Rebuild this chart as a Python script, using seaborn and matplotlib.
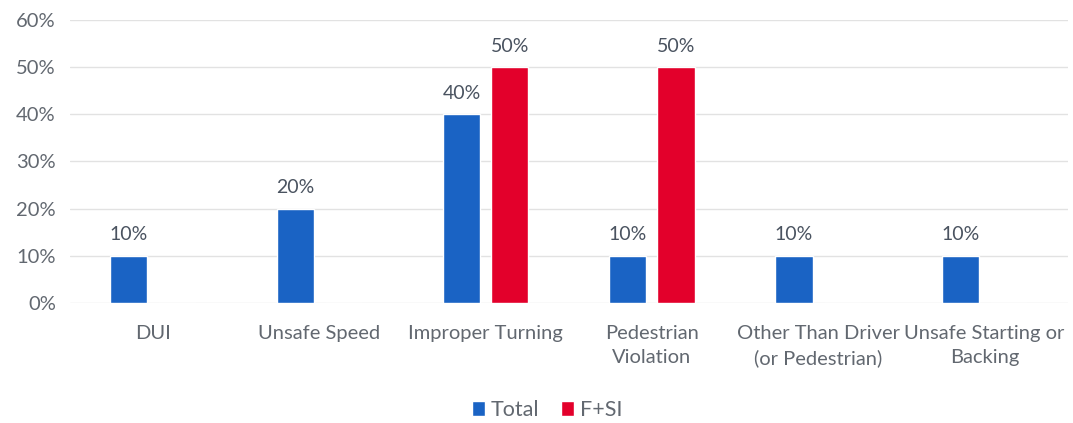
import matplotlib
matplotlib.use("Agg")
import matplotlib.pyplot as plt
import seaborn as sns
import pandas as pd
from matplotlib.patches import Patch

categories = ["DUI", "Unsafe Speed", "Improper Turning", "Pedestrian\nViolation",
              "Other Than Driver\n(or Pedestrian)", "Unsafe Starting or\nBacking"]
total = [0.10, 0.20, 0.40, 0.10, 0.10, 0.10]
fsi = [0.0, 0.0, 0.50, 0.50, 0.0, 0.0]
series = ["Total", "F+SI"]
colors = {"Total": "#1A63C4", "F+SI": "#E3002B"}
yticks = [0, 0.1, 0.2, 0.3, 0.4, 0.5, 0.6]

df = pd.DataFrame({
    "category": categories * 2,
    "series": [series[0]] * len(categories) + [series[1]] * len(categories),
    "value": total + fsi,
})

sns.set_theme(style="white")
plt.rcParams["font.family"] = ["Lato", "DejaVu Sans"]
text_color = "#626870"

fig = plt.figure(figsize=(10.73, 4.23), dpi=100)
ax = fig.add_axes([0.065, 0.284, 0.93, 0.669])

sns.barplot(data=df, x="category", y="value", hue="series", order=categories,
            hue_order=series, palette=colors, width=0.58, gap=0.23,
            saturation=1, legend=False, ax=ax)

ax.set_ylim(0, 0.6)
ax.set_yticks(yticks)
ax.set_yticklabels([f"{int(round(t * 100))}%" for t in yticks])
ax.yaxis.grid(True, color="#E2E2E2", linewidth=1)
ax.set_axisbelow(True)
for s in ax.spines.values():
    s.set_visible(False)
ax.set_xlabel("")
ax.set_ylabel("")
ax.tick_params(axis="y", length=0, pad=10, labelsize=14.5, labelcolor=text_color)
ax.tick_params(axis="x", length=0, pad=16, labelsize=14.5, labelcolor=text_color)
for lbl in ax.get_xticklabels():
    lbl.set_linespacing(1.5)
ax.set_xlim(-0.5, len(categories) - 0.5)

# value labels above every non-empty bar
for container in ax.containers:
    labels = [f"{int(round(b.get_height() * 100))}%" if b.get_height() > 0 else ""
              for b in container]
    ax.bar_label(container, labels=labels, padding=9, fontsize=14,
                 color="#4A5360")

handles = [Patch(facecolor=colors[s], label=s) for s in series]
fig.legend(handles=handles, loc="center", bbox_to_anchor=(0.51, 0.03), ncol=2,
           frameon=False, fontsize=15.5, handlelength=0.6, handleheight=0.7,
           handletextpad=0.3, columnspacing=1.0, labelcolor=text_color)

fig.savefig("out.png", dpi=100)
